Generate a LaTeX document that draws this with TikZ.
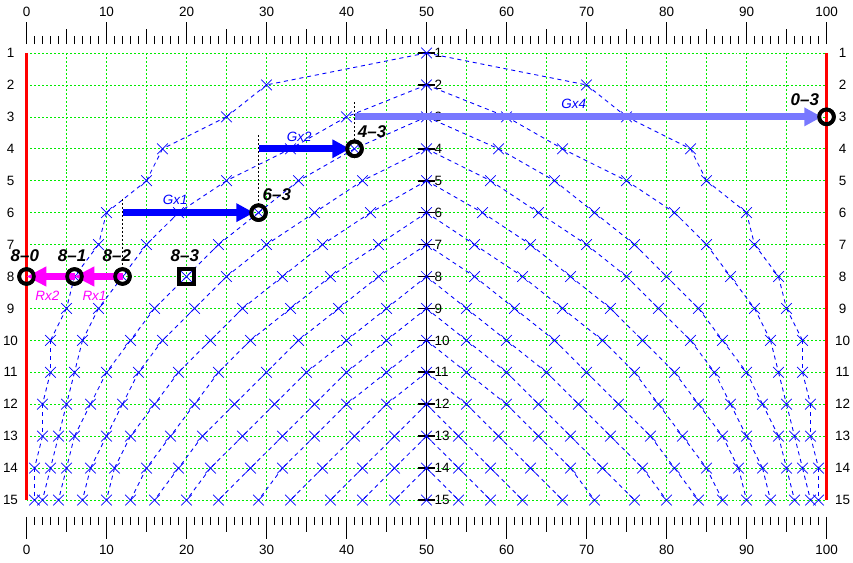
\documentclass[tikz,border=0pt]{standalone}
\usepackage{fontspec}
\setmainfont{Liberation Sans}
\usetikzlibrary{arrows.meta,shapes.misc,positioning}

\definecolor{gridgreen}{RGB}{0,235,0}
\definecolor{paleblue}{RGB}{120,120,255}
\definecolor{rxpink}{RGB}{255,0,255}

\tikzset{
  gridline/.style={draw=gridgreen, line width=0.6pt, dash pattern=on 1.7pt off 1.7pt},
  curve/.style={draw=blue, line width=0.75pt, dash pattern=on 3.5pt off 3.2pt},
  xmark/.style={cross out, draw=blue, line width=0.6pt, minimum width=8.5pt, minimum height=8.5pt, inner sep=0pt},
  axlbl/.style={font=\fontsize{11.5}{13}\selectfont, inner sep=0pt},
  tick/.style={line width=1.2pt},
  ring/.style={circle, draw, line width=3.2pt, minimum size=12.6pt, inner sep=0pt},
  boxmark/.style={rectangle, draw, line width=3.2pt, minimum size=12.8pt, inner sep=0pt},
  scorelbl/.style={font=\fontsize{14.5}{16}\selectfont\bfseries\itshape, inner sep=0pt},
  movelbl/.style={font=\fontsize{11.5}{13}\selectfont\itshape, inner sep=0pt},
  guide/.style={line width=1.6pt, dash pattern=on 1.7pt off 1.7pt},
  gxarrow/.style={draw=blue, line width=6pt, -{Triangle[length=15pt, width=15pt]}, shorten >=-4pt},
  rxarrow/.style={draw=rxpink, line width=5.5pt, -{Triangle[length=17pt, width=16pt]}}
}

\begin{document}
\begin{tikzpicture}[x=0.24cm, y=-0.9579cm]
  \useasboundingbox (-3.3125,-0.66) rectangle (103.3125,16.972);

  % rulers
  \foreach \x in {0,...,100} {
    \pgfmathsetmacro\tl{ifthenelse(mod(\x,10)==0,0.69,ifthenelse(mod(\x,5)==0,0.47,0.25))}
    \draw[tick] (\x,0.72) -- ++(0,-\tl);
    \draw[tick] (\x,15.53) -- ++(0,\tl);
  }
  \foreach \x in {0,10,...,100} {
    \node[axlbl] (top\x) at (\x,-0.28) {\x};
    \node[axlbl] (bot\x) at (\x,16.57) {\x};
  }

  % grid
  \foreach \x in {5,10,...,95}
    \draw[gridline] (\x,1) -- (\x,15);
  \foreach \r in {1,...,15} {
    \draw[gridline] (0,\r) -- (100,\r);
    \node[axlbl] (lrow\r) at (-2,\r) {\r};
    \node[axlbl] (rrow\r) at (102,\r) {\r};
    \node[axlbl, anchor=west] (crow\r) at (51.0,\r) {\r};
  }
  \draw[red, line width=2pt] (0,1) -- (0,15);
  \draw[red, line width=2pt] (100,1) -- (100,15);

  % centre axis
  \draw[line width=1.4pt] (50,1) -- (50,15);
  \foreach \r in {1,...,15}
    \draw[line width=1.4pt] (48.9,\r) -- (51.1,\r);

  % equity curves, left half mirrored to the right
  \foreach \k/\vals in {
      1/{30,25,17,15,10,9,6,5,3,3,2,2,1,1},
      2/{40,33,25,19,15,12,9,7,6,5,4,3,2},
      3/{41,34,29,24,20,16,13,10,8,6,5,4},
      4/{42,36,30,25,21,17,14,12,10,8,7},
      5/{43,37,32,27,23,19,16,13,11,10},
      6/{44,38,33,28,24,21,18,15,13},
      7/{44,39,34,30,26,22,19,16},
      8/{45,40,35,31,27,23,20},
      9/{45,40,36,32,28,24},
      10/{45,40,36,32,29},
      11/{45,41,37,33},
      12/{46,42,38},
      13/{46,42},
      14/{46}} {
    \foreach \v [count=\i, remember=\v as \u (initially 50)] in \vals {
      \draw[curve] (\u,\k+\i-1) -- (\v,\k+\i);
      \draw[curve] (100-\u,\k+\i-1) -- (100-\v,\k+\i);
      \node[xmark] (xl\k-\i) at (\v,\k+\i) {};
      \node[xmark] (xr\k-\i) at (100-\v,\k+\i) {};
    }
  }
  \foreach \r in {1,...,15}
    \node[xmark] (xc\r) at (50,\r) {};

  % cube moves
  \coordinate (g1top) at (12,5.57);
  \coordinate (g1s) at (12,6);
  \coordinate (g2top) at (29,3.57);
  \coordinate (g2s) at (29,4);
  \coordinate (g4top) at (41,2.54);
  \coordinate (g4s) at (41,3);

  \node[ring] (c80) at (0,8) {};
  \node[ring] (c81) at (6,8) {};
  \node[ring] (c82) at (12,8) {};
  \node[boxmark] (b83) at (20,8) {};
  \node[ring] (c63) at (29,6) {};
  \node[ring] (c43) at (41,4) {};
  \node[ring] (c03) at (100,3) {};

  \draw[guide] (g1top) -- (c82);
  \draw[guide] (g2top) -- (c63);
  \draw[guide] (g4top) -- (c43);

  \draw[gxarrow] (g1s) -- (c63);
  \draw[gxarrow] (g2s) -- (c43);
  \draw[gxarrow, draw=paleblue] (g4s) -- (c03);
  \draw[rxarrow] (c82.center) -- (c81.center);
  \draw[rxarrow] (c81.center) -- (c80.center);

  % rings again, over the arrows
  \foreach \n in {c80,c81,c82,c63,c43,c03}
    \draw[line width=3.2pt] (\n.center) circle (6.3pt);

  \node[scorelbl] (l80) at (-0.2,7.36) {8–0};
  \node[scorelbl] (l81) at (5.7,7.36) {8–1};
  \node[scorelbl] (l82) at (11.3,7.36) {8–2};
  \node[scorelbl] (l83) at (19.8,7.36) {8–3};
  \node[scorelbl] (l63) at (31.3,5.45) {6–3};
  \node[scorelbl] (l43) at (43.2,3.47) {4–3};
  \node[scorelbl] (l03) at (97.3,2.47) {0–3};

  \node[movelbl, blue] (gx1) at (18.6,5.6) {Gx1};
  \node[movelbl, blue] (gx2) at (34.1,3.62) {Gx2};
  \node[movelbl, blue] (gx4) at (68.4,2.6) {Gx4};
  \node[movelbl, rxpink] (rx1) at (8.5,8.61) {Rx1};
  \node[movelbl, rxpink] (rx2) at (2.6,8.61) {Rx2};
\end{tikzpicture}
\end{document}
